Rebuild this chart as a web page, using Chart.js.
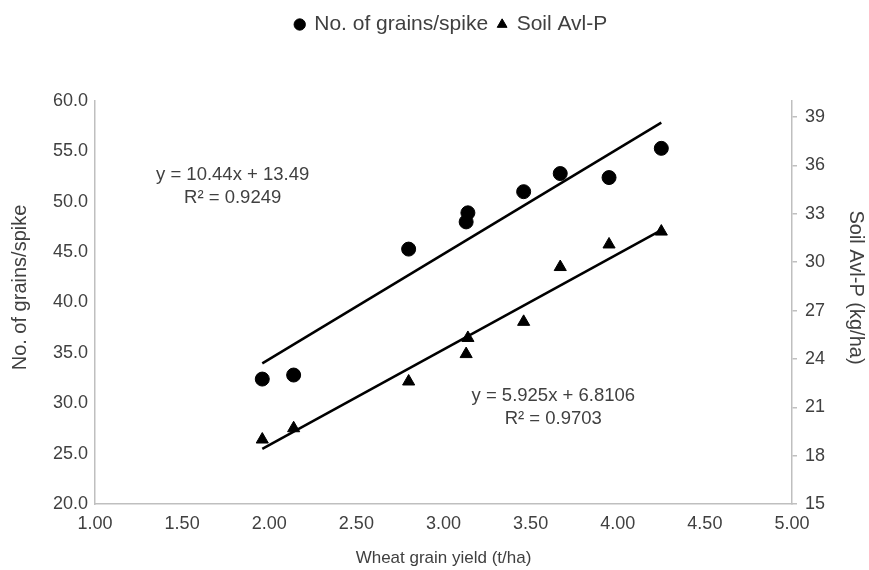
<!DOCTYPE html>
<html>
<head>
<meta charset="utf-8">
<script src="https://cdn.jsdelivr.net/npm/chart.js@4.4.1/dist/chart.umd.min.js"></script>
<style>
  html, body { margin: 0; padding: 0; background: #fff; }
</style>
</head>
<body>
<canvas id="chart" width="869" height="570"></canvas>
<script>
// wheat grain yield (t/ha) for each plot
const yieldTha = [1.96, 2.14, 2.80, 3.13, 3.14, 3.46, 3.67, 3.95, 4.25];
// no. of grains per spike (left axis)
const grainsPerSpike = [32.4, 32.8, 45.3, 48.0, 48.9, 51.0, 52.8, 52.4, 55.3];
// soil available P, kg/ha (right axis)
const soilAvlP = [19.0, 19.7, 22.6, 24.3, 25.3, 26.3, 29.7, 31.1, 31.9];

const seriesNames = ['No. of grains/spike', 'Soil Avl-P'];
// linear fits as printed on the chart: [slope, intercept]
const fitGrains = [10.44, 13.49];
const fitSoilP = [5.925, 6.8106];
const fitLabels = [
  ['y = 10.44x + 13.49', 'R\u00b2 = 0.9249'],
  ['y = 5.925x + 6.8106', 'R\u00b2 = 0.9703']
];

const xTicks = [1, 1.5, 2, 2.5, 3, 3.5, 4, 4.5, 5];
const axisTitles = ['Wheat grain yield (t/ha)', 'No. of grains/spike', 'Soil Avl-P (kg/ha)'];

const FONT = "'Liberation Sans', Arial, sans-serif";
const TEXT = '#404040';
const AXIS = '#bfbfbf';

const xMin = Math.min(...yieldTha);
const xMax = Math.max(...yieldTha);
const trendLine = (fit) => [
  { x: xMin, y: fit[0] * xMin + fit[1] },
  { x: xMax, y: fit[0] * xMax + fit[1] }
];

// stretch the legend box so the plot starts lower, and nudge it right
const legendSpace = {
  id: 'legendSpace',
  beforeLayout(chart) {
    const lg = chart.legend;
    if (lg && !lg._stretched) {
      const fit = lg.fit;
      lg.fit = function () { fit.call(this); this.height += 56; };
      lg._stretched = true;
    }
  },
  afterLayout(chart) {
    chart.legend.left += 8;
    chart.legend.right += 8;
  }
};

// trend line equations + the two vertical axis titles (sit a bit above centre)
const extraText = {
  id: 'extraText',
  afterDraw(chart) {
    const { ctx, scales, chartArea } = chart;
    const spots = [[1.79, 52.7], [3.63, 30.7]];
    ctx.save();
    ctx.fillStyle = TEXT;
    ctx.textAlign = 'center';
    ctx.textBaseline = 'middle';
    ctx.font = '18.5px ' + FONT;
    fitLabels.forEach((lines, i) => {
      const px = scales.x.getPixelForValue(spots[i][0]);
      const py = scales.y.getPixelForValue(spots[i][1]);
      lines.forEach((t, j) => ctx.fillText(t, px, py + j * 23));
    });

    const midY = (chartArea.top + chartArea.bottom) / 2 - 15;
    ctx.font = '20px ' + FONT;
    ctx.save();
    ctx.translate(20, midY);
    ctx.rotate(-Math.PI / 2);
    ctx.fillText(axisTitles[1], 0, 0);
    ctx.restore();
    ctx.save();
    ctx.translate(chart.width - 13, midY);
    ctx.rotate(Math.PI / 2);
    ctx.fillText(axisTitles[2], 0, 0);
    ctx.restore();
    ctx.restore();
  }
};

const tickFont = { family: FONT, size: 18 };

new Chart(document.getElementById('chart'), {
  type: 'scatter',
  data: {
    datasets: [
      {
        label: seriesNames[0],
        data: yieldTha.map((x, i) => ({ x, y: grainsPerSpike[i] })),
        yAxisID: 'y',
        pointStyle: 'circle',
        pointRadius: 7,
        backgroundColor: '#000',
        borderColor: '#000'
      },
      {
        label: seriesNames[1],
        data: yieldTha.map((x, i) => ({ x, y: soilAvlP[i] })),
        yAxisID: 'y1',
        pointStyle: 'triangle',
        pointRadius: 7,
        backgroundColor: '#000',
        borderColor: '#000'
      },
      {
        label: 'fit1',
        data: trendLine(fitGrains),
        yAxisID: 'y',
        showLine: true,
        pointRadius: 0,
        borderColor: '#000',
        borderWidth: 2.5
      },
      {
        label: 'fit2',
        data: trendLine(fitSoilP),
        yAxisID: 'y1',
        showLine: true,
        pointRadius: 0,
        borderColor: '#000',
        borderWidth: 2.5
      }
    ]
  },
  options: {
    responsive: false,
    animation: false,
    layout: { padding: { top: 4, left: 0, right: 0, bottom: 0 } },
    plugins: {
      tooltip: { enabled: false },
      legend: {
        position: 'top',
        fullSize: false,
        labels: {
          usePointStyle: true,
          boxWidth: 8,
          boxHeight: 8,
          padding: 10,
          color: TEXT,
          font: { family: FONT, size: 21 },
          filter: (item) => item.datasetIndex < 2
        }
      }
    },
    scales: {
      x: {
        type: 'linear',
        min: 1,
        max: 5,
        afterBuildTicks: (s) => { s.ticks = xTicks.map(v => ({ value: v })); },
        ticks: {
          color: TEXT,
          font: tickFont,
          padding: 9,
          maxRotation: 0,
          callback: (v) => v.toFixed(2)
        },
        grid: { display: false, drawTicks: false },
        border: { display: true, color: AXIS, width: 1.5 },
        title: {
          display: true,
          text: axisTitles[0],
          color: TEXT,
          font: { family: FONT, size: 17 },
          padding: { top: 0, bottom: 1 }
        },
        afterFit: (s) => { s.height = 66; }
      },
      y: {
        position: 'left',
        min: 20,
        max: 60,
        ticks: {
          stepSize: 5,
          color: TEXT,
          font: tickFont,
          padding: 7,
          callback: (v) => v.toFixed(1)
        },
        grid: { display: false, drawTicks: false },
        border: { display: true, color: AXIS, width: 1.5 },
        afterFit: (s) => { s.width = 95; }
      },
      y1: {
        position: 'right',
        min: 15,
        max: 40,
        ticks: {
          stepSize: 3,
          includeBounds: false,
          color: TEXT,
          font: tickFont,
          padding: 8
        },
        grid: {
          display: true,
          drawOnChartArea: false,
          drawTicks: true,
          tickLength: 5,
          color: AXIS,
          lineWidth: 1.5
        },
        border: { display: true, color: AXIS, width: 1.5 },
        afterFit: (s) => { s.width = 77; }
      }
    }
  },
  plugins: [legendSpace, extraText]
});
</script>
</body>
</html>
